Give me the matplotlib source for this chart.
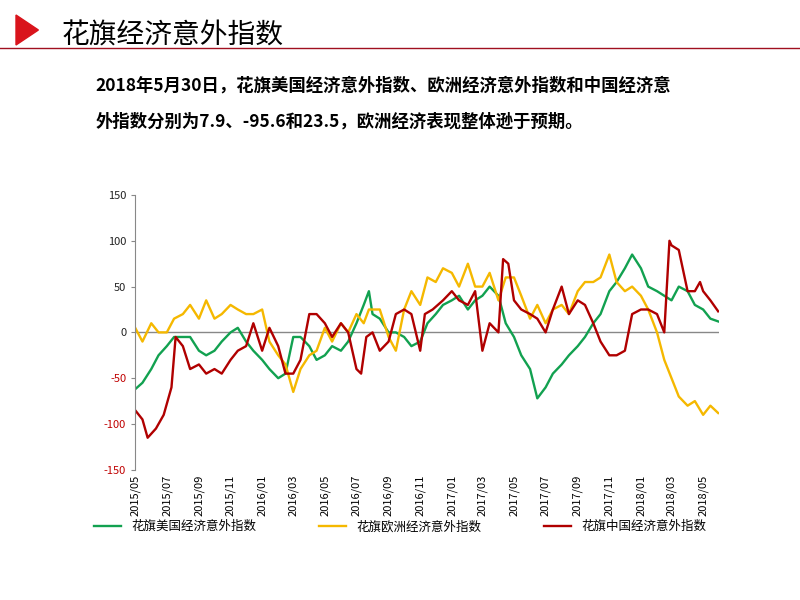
import matplotlib
matplotlib.use("Agg")
import matplotlib.pyplot as plt
import matplotlib.dates as mdates
import pandas as pd

plt.rcParams["font.family"] = ["Noto Sans CJK SC", "DejaVu Sans"]
plt.rcParams["axes.unicode_minus"] = False

# ── data ──
US_DATES = ["2015-05-01", "2015-05-15", "2015-06-01", "2015-06-15", "2015-07-01", "2015-07-15",
            "2015-08-01", "2015-08-15", "2015-09-01", "2015-09-15", "2015-10-01", "2015-10-15",
            "2015-11-01", "2015-11-15", "2015-12-01", "2015-12-15", "2016-01-01", "2016-01-15",
            "2016-02-01", "2016-02-15", "2016-03-01", "2016-03-15", "2016-04-01", "2016-04-15",
            "2016-05-01", "2016-05-15", "2016-06-01", "2016-06-15", "2016-07-01", "2016-07-15",
            "2016-07-25", "2016-08-01", "2016-08-15", "2016-09-01", "2016-09-15", "2016-10-01",
            "2016-10-15", "2016-11-01", "2016-11-15", "2016-12-01", "2016-12-15", "2017-01-01",
            "2017-01-15", "2017-02-01", "2017-02-15", "2017-03-01", "2017-03-15", "2017-04-01",
            "2017-04-15", "2017-05-01", "2017-05-15", "2017-06-01", "2017-06-15", "2017-07-01",
            "2017-07-15", "2017-08-01", "2017-08-15", "2017-09-01", "2017-09-15", "2017-10-01",
            "2017-10-15", "2017-11-01", "2017-11-15", "2017-12-01", "2017-12-15", "2018-01-01",
            "2018-01-15", "2018-02-01", "2018-02-15", "2018-03-01", "2018-03-15", "2018-04-01",
            "2018-04-15", "2018-05-01", "2018-05-15", "2018-05-30"]
US_VALS = [-62, -55, -40, -25, -15, -5, -5, -5, -20, -25, -20, -10, 0, 5, -10, -20, -30, -40,
           -50, -45, -5, -5, -15, -30, -25, -15, -20, -10, 10, 30, 45, 20, 15, 0, 0, -5,
           -15, -10, 10, 20, 30, 35, 40, 25, 35, 40, 50, 40, 10, -5, -25, -40, -72, -60,
           -45, -35, -25, -15, -5, 10, 20, 45, 55, 70, 85, 70, 50, 45, 40, 35, 50, 45,
           30, 25, 15, 12]

EU_DATES = US_DATES
EU_VALS = [5, -10, 10, 0, 0, 15, 20, 30, 15, 35, 15, 20, 30, 25, 20, 20, 25, -10,
           -25, -35, -65, -40, -25, -20, 5, -10, 10, 0, 20, 10, 25, 25, 25, -5, -20, 25,
           45, 30, 60, 55, 70, 65, 50, 75, 50, 50, 65, 35, 60, 60, 40, 15, 30, 10,
           25, 30, 20, 45, 55, 55, 60, 85, 55, 45, 50, 40, 25, 0, -30, -50, -70, -80,
           -75, -90, -80, -88]

CN_DATES = ["2015-05-01", "2015-05-15", "2015-05-25", "2015-06-10", "2015-06-25", "2015-07-10",
            "2015-07-18", "2015-08-01", "2015-08-15", "2015-09-01", "2015-09-15", "2015-10-01",
            "2015-10-15", "2015-11-01", "2015-11-15", "2015-12-01", "2015-12-15", "2016-01-01",
            "2016-01-15", "2016-02-01", "2016-02-15", "2016-03-01", "2016-03-15", "2016-04-01",
            "2016-04-15", "2016-05-01", "2016-05-15", "2016-06-01", "2016-06-15", "2016-07-01",
            "2016-07-10", "2016-07-20", "2016-08-01", "2016-08-15", "2016-09-01", "2016-09-15",
            "2016-10-01", "2016-10-15", "2016-11-01", "2016-11-10", "2016-11-25", "2016-12-15",
            "2017-01-01", "2017-01-15", "2017-02-01", "2017-02-15", "2017-03-01", "2017-03-15",
            "2017-04-01", "2017-04-10", "2017-04-20", "2017-05-01", "2017-05-15", "2017-06-01",
            "2017-06-15", "2017-07-01", "2017-07-15", "2017-08-01", "2017-08-15", "2017-09-01",
            "2017-09-15", "2017-10-01", "2017-10-15", "2017-11-01", "2017-11-15", "2017-12-01",
            "2017-12-15", "2018-01-01", "2018-01-15", "2018-02-01", "2018-02-15", "2018-02-25",
            "2018-03-01", "2018-03-15", "2018-04-01", "2018-04-15", "2018-04-25", "2018-05-01",
            "2018-05-15", "2018-05-30"]
CN_VALS = [-85, -95, -115, -105, -90, -60, -5, -15, -40, -35, -45, -40, -45, -30, -20, -15,
           10, -20, 5, -15, -45, -45, -30, 20, 20, 10, -5, 10, 0, -40, -45, -5, 0, -20,
           -10, 20, 25, 20, -20, 20, 25, 35, 45, 35, 30, 45, -20, 10, 0, 80, 75, 35, 25,
           20, 15, 0, 25, 50, 20, 35, 30, 10, -10, -25, -25, -20, 20, 25, 25, 20, 0, 100,
           95, 90, 45, 45, 55, 45, 35, 23]

SERIES = [("花旗美国经济意外指数", US_DATES, US_VALS, "#12a150"),
          ("花旗欧洲经济意外指数", EU_DATES, EU_VALS, "#f5b800"),
          ("花旗中国经济意外指数", CN_DATES, CN_VALS, "#b00000")]

fig = plt.figure(figsize=(8, 6), dpi=100)

# header
fig.patches.append(plt.Polygon([[0.02, 0.975], [0.02, 0.925], [0.048, 0.95]],
                               closed=True, transform=fig.transFigure,
                               color="#d9141c"))
fig.text(0.077, 0.94, "花旗经济意外指数", fontsize=20, va="center")
fig.add_artist(plt.Line2D([0.0, 1.0], [0.92, 0.92], color="#a01020", lw=1))
fig.text(0.119, 0.857, "2018年5月30日，花旗美国经济意外指数、欧洲经济意外指数和中国经济意",
         fontsize=12.5, fontweight="bold", va="center")
fig.text(0.119, 0.798, "外指数分别为7.9、-95.6和23.5，欧洲经济表现整体逊于预期。",
         fontsize=12.5, fontweight="bold", va="center")

ax = fig.add_axes([0.169, 0.217, 0.73, 0.458])
for name, d, v, c in SERIES:
    ax.plot(pd.to_datetime(d), v, color=c, lw=1.7, label=name)

ax.set_ylim(-150, 150)
ax.set_yticks([-150, -100, -50, 0, 50, 100, 150])
ax.set_xlim(pd.Timestamp("2015-05-01"), pd.Timestamp("2018-06-01"))
ax.axhline(0, color="#888888", lw=1, zorder=0)
for s in ["top", "right", "bottom"]:
    ax.spines[s].set_visible(False)
ax.spines["left"].set_color("#888888")
ax.tick_params(axis="y", labelsize=8, length=3, color="#888888")
for t, val in zip(ax.get_yticklabels(), ax.get_yticks()):
    t.set_color("#c00000" if val < 0 else "#222222")
ax.xaxis.set_major_locator(mdates.MonthLocator(bymonth=[1, 3, 5, 7, 9, 11]))
ax.xaxis.set_major_formatter(mdates.DateFormatter("%Y/%m"))
ax.tick_params(axis="x", labelsize=8, rotation=90, length=0)

fig.legend(loc="center", bbox_to_anchor=(0.5, 0.122), ncol=3, frameon=False,
           fontsize=9, handlelength=2.2, columnspacing=5)

fig.savefig("out.png", dpi=100)
